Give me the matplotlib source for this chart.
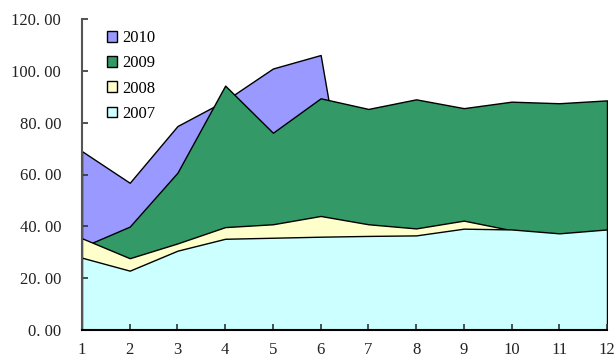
import matplotlib
matplotlib.use("Agg")
import matplotlib.pyplot as plt
from matplotlib.patches import Patch

months = [1, 2, 3, 4, 5, 6, 7, 8, 9, 10, 11, 12]
s2010 = [69.0, 56.8, 78.7, 88.5, 100.9, 106.1, 0, 0, 0, 0, 0, 0]
s2009 = [32.0, 39.9, 60.7, 94.3, 76.1, 89.4, 85.3, 89.0, 85.6, 88.1, 87.5, 88.6]
s2008 = [35.4, 27.7, 33.4, 39.7, 40.8, 44.0, 40.8, 39.2, 42.2, 38.5, 36.8, 38.3]
s2007 = [27.9, 22.9, 30.6, 35.2, 35.6, 36.0, 36.3, 36.5, 39.1, 38.8, 37.3, 38.8]
series_names = ["2010", "2009", "2008", "2007"]
yticks = [0, 20, 40, 60, 80, 100, 120]

colors = ["#9999FF", "#339966", "#FFFFCC", "#CCFFFF"]

plt.rcParams['font.family'] = ['Liberation Serif', 'DejaVu Serif']

fig = plt.figure(figsize=(6.16, 3.61), dpi=100)
ax = fig.add_axes([82/616, 1-330/361, (607-82)/616, (330-19)/361])

for vals, c in zip([s2010, s2009, s2008, s2007], colors):
    ax.fill_between(months, 0, vals, facecolor=c, edgecolor="black", linewidth=1.0)

ax.set_xlim(1, 12)
ax.set_ylim(0, 120)
ax.set_xticks(months)
ax.set_yticks(yticks)
ax.set_yticklabels([f"{v:.2f}".replace(".", ". ") for v in yticks])
ax.tick_params(direction="in", length=4, width=1.2, labelsize=12, colors="#333333")
ax.tick_params(axis="y", pad=15)
ax.tick_params(axis="x", pad=9)
for lab in ax.get_xticklabels() + ax.get_yticklabels():
    lab.set_color("#222222")
ax.spines["top"].set_visible(False)
ax.spines["right"].set_visible(False)
ax.spines["left"].set_color("#555555")
ax.spines["left"].set_linewidth(1.5)
ax.spines["bottom"].set_color("black")
ax.spines["bottom"].set_linewidth(1.5)
ax.set_zorder(1)

handles = [Patch(facecolor=c, edgecolor="black", linewidth=1.0) for c in colors]
leg = ax.legend(handles, series_names, loc="upper left", bbox_to_anchor=(0.035, 0.985),
                frameon=False, fontsize=12, handlelength=0.6, handleheight=0.6,
                handletextpad=0.3, labelspacing=0.55, borderaxespad=0)

fig.savefig("out.png", dpi=100)
